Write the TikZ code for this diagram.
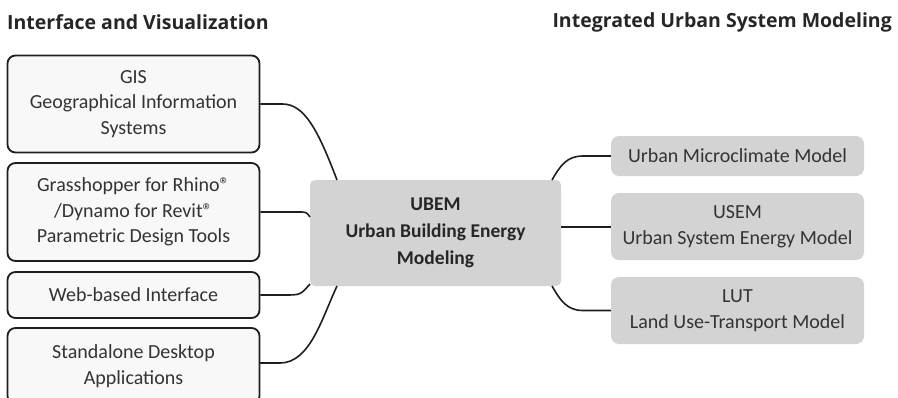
\documentclass[tikz,border=0pt]{standalone}
\usepackage{fontspec}
\setmainfont{Carlito}
\newfontfamily\titlefont{Open Sans}
\definecolor{bodytext}{HTML}{333333}
\definecolor{lightbox}{HTML}{F8F8F8}
\definecolor{greybox}{HTML}{D3D3D3}
\definecolor{edge}{HTML}{1E1E1E}
\begin{document}
\begin{tikzpicture}[x=1pt,y=-1pt,
  txt/.style={font=\fontsize{20}{25.5}\selectfont, text=bodytext, align=center, inner sep=0pt},
  leftbox/.style={txt, draw=edge, line width=1.8pt, fill=lightbox, rounded corners=8pt, minimum width=252pt},
  rightbox/.style={txt, fill=greybox, rounded corners=8pt, minimum width=253pt},
  centerbox/.style={fill=greybox, rounded corners=5pt, minimum width=251pt, minimum height=106pt, align=center, inner sep=0pt,
     font=\fontsize{19.5}{27}\selectfont\bfseries, text=black!85},
  heading/.style={font=\titlefont\bfseries\fontsize{19.5}{21}\selectfont, text=black!85, inner sep=0pt},
  link/.style={draw=edge, line width=1.6pt}
]
\useasboundingbox (0,0) rectangle (898,397);

\node[heading, anchor=west] (t1) at (7,22) {Interface and Visualization};
\node[heading, anchor=east] (t2) at (892,22) {Integrated Urban System Modeling};

\node[leftbox, minimum height=97pt] (gis) at (133.5,104) {GIS\\Geographical Information\\Systems};
\node[leftbox, minimum height=98pt] (gh) at (133.5,212) {Grasshopper for Rhino®\\/Dynamo for Revit®\\Parametric Design Tools};
\node[leftbox, minimum height=46pt] (web) at (133.5,295) {Web-based Interface};
\node[leftbox, minimum height=76pt] (sda) at (133.5,366) {Standalone Desktop\\Applications};

\node[centerbox] (ubem) at (435.5,233) {UBEM\\Urban Building Energy\\Modeling};

\node[rightbox, minimum height=40pt] (umc) at (737.5,156) {Urban Microclimate Model};
\node[rightbox, minimum height=67pt] (usem) at (737.5,226.5) {USEM\\Urban System Energy Model};
\node[rightbox, minimum height=67pt] (lut) at (737.5,310.5) {LUT\\Land Use-Transport Model};

\coordinate (ut1) at (337,180);
\coordinate (ul1) at (310,217);
\coordinate (ul2) at (310,284);
\coordinate (ub1) at (337,286);
\coordinate (ut2) at (552,180);
\coordinate (ub2) at (552,286);
\coordinate (sdr) at (260,363);

\draw[link] (gis.east) -- ++(22,0) .. controls +(22,0) and (318,130) .. (ut1);
\draw[link] (gh.east) -- ++(38,0) .. controls +(8,0) .. (ul1);
\draw[link] (web.east) -- ++(24,0) .. controls +(16,0) .. (ul2);
\draw[link] (sdr) -- ++(20,0) .. controls +(30,0) and (322,318) .. (ub1);
\draw[link] (umc.west) -- ++(-28,0) .. controls +(-16,0) and (560,166) .. (ut2);
\draw[link] (usem.west |- 0,227) -- (ubem.east |- 0,227);
\draw[link] (lut.west) -- ++(-28,0) .. controls +(-16,0) and (560,300) .. (ub2);
\end{tikzpicture}
\end{document}
